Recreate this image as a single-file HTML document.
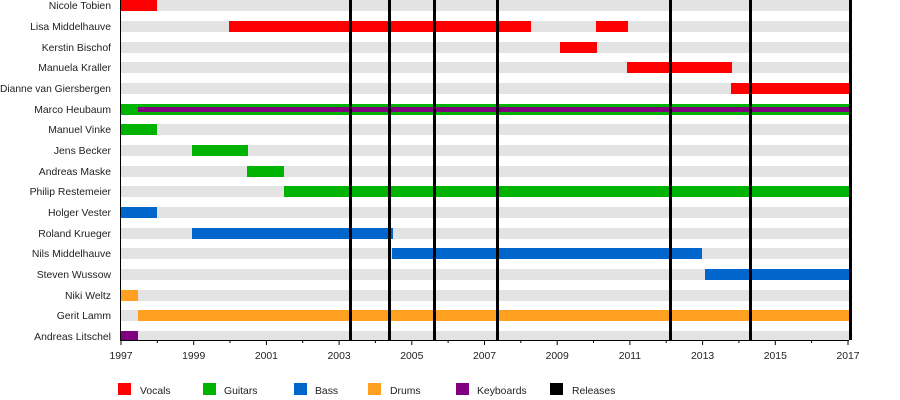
<!DOCTYPE html>
<html><head><meta charset="utf-8"><style>
html,body{margin:0;padding:0;background:#fff;}
svg{display:block;font-family:"Liberation Sans",Arial,sans-serif;font-size:10.4px;}
</style></head><body>
<svg width="900" height="400" xmlns="http://www.w3.org/2000/svg">
<g fill="#e3e3e3">
<rect x="121" y="0" width="730" height="11"/>
<rect x="121" y="21" width="730" height="11"/>
<rect x="121" y="42" width="730" height="11"/>
<rect x="121" y="62" width="730" height="11"/>
<rect x="121" y="83" width="730" height="11"/>
<rect x="121" y="104" width="730" height="11"/>
<rect x="121" y="124" width="730" height="11"/>
<rect x="121" y="145" width="730" height="11"/>
<rect x="121" y="166" width="730" height="11"/>
<rect x="121" y="186" width="730" height="11"/>
<rect x="121" y="207" width="730" height="11"/>
<rect x="121" y="228" width="730" height="11"/>
<rect x="121" y="248" width="730" height="11"/>
<rect x="121" y="269" width="730" height="11"/>
<rect x="121" y="290" width="730" height="11"/>
<rect x="121" y="310" width="730" height="11"/>
<rect x="121" y="331" width="730" height="9"/>
</g>
<g fill="#ff0000">
<rect x="121" y="0" width="36" height="11"/>
<rect x="229" y="21" width="302" height="11"/>
<rect x="596" y="21" width="32" height="11"/>
<rect x="560" y="42" width="37" height="11"/>
<rect x="627" y="62" width="105" height="11"/>
<rect x="731" y="83" width="120" height="11"/>
</g>
<g fill="#00b300">
<rect x="121" y="104" width="730" height="11"/>
<rect x="121" y="124" width="36" height="11"/>
<rect x="192" y="145" width="56" height="11"/>
<rect x="247" y="166" width="37" height="11"/>
<rect x="284" y="186" width="567" height="11"/>
</g>
<rect x="138" y="107" width="713" height="5" fill="#800080"/>
<g fill="#0066cc">
<rect x="121" y="207" width="36" height="11"/>
<rect x="192" y="228" width="201" height="11"/>
<rect x="392" y="248" width="310" height="11"/>
<rect x="705" y="269" width="146" height="11"/>
</g>
<g fill="#ffa020">
<rect x="121" y="290" width="17" height="11"/>
<rect x="138" y="310" width="713" height="11"/>
</g>
<rect x="121" y="331" width="17" height="9" fill="#800080"/>
<g fill="#000">
<rect x="349" y="0" width="3" height="340"/>
<rect x="388" y="0" width="3" height="340"/>
<rect x="433" y="0" width="3" height="340"/>
<rect x="496" y="0" width="3" height="340"/>
<rect x="669" y="0" width="3" height="340"/>
<rect x="749" y="0" width="3" height="340"/>
<rect x="849" y="0" width="3" height="340"/>
</g>
<g stroke="#000" stroke-width="1">
<line x1="120.5" y1="0" x2="120.5" y2="341"/>
<line x1="120" y1="340.5" x2="849" y2="340.5"/>
<line x1="121" y1="340" x2="121" y2="345"/><line x1="157.3" y1="340" x2="157.3" y2="343"/>
<line x1="193.7" y1="340" x2="193.7" y2="345"/><line x1="230" y1="340" x2="230" y2="343"/>
<line x1="266.4" y1="340" x2="266.4" y2="345"/><line x1="302.7" y1="340" x2="302.7" y2="343"/>
<line x1="339.1" y1="340" x2="339.1" y2="345"/><line x1="375.4" y1="340" x2="375.4" y2="343"/>
<line x1="411.8" y1="340" x2="411.8" y2="345"/><line x1="448.1" y1="340" x2="448.1" y2="343"/>
<line x1="484.5" y1="340" x2="484.5" y2="345"/><line x1="520.8" y1="340" x2="520.8" y2="343"/>
<line x1="557.2" y1="340" x2="557.2" y2="345"/><line x1="593.5" y1="340" x2="593.5" y2="343"/>
<line x1="629.9" y1="340" x2="629.9" y2="345"/><line x1="666.2" y1="340" x2="666.2" y2="343"/>
<line x1="702.6" y1="340" x2="702.6" y2="345"/><line x1="738.9" y1="340" x2="738.9" y2="343"/>
<line x1="775.3" y1="340" x2="775.3" y2="345"/><line x1="811.6" y1="340" x2="811.6" y2="343"/>
<line x1="848" y1="340" x2="848" y2="345"/>
</g>
<g fill="#222" text-anchor="middle">
<text x="121" y="359">1997</text><text x="193.7" y="359">1999</text><text x="266.4" y="359">2001</text>
<text x="339.1" y="359">2003</text><text x="411.8" y="359">2005</text><text x="484.5" y="359">2007</text>
<text x="557.2" y="359">2009</text><text x="629.9" y="359">2011</text><text x="702.6" y="359">2013</text>
<text x="775.3" y="359">2015</text><text x="848" y="359">2017</text>
</g>
<g fill="#222" text-anchor="end">
<text x="111" y="9">Nicole Tobien</text>
<text x="111" y="30">Lisa Middelhauve</text>
<text x="111" y="51">Kerstin Bischof</text>
<text x="111" y="71">Manuela Kraller</text>
<text x="111" y="92" textLength="111" lengthAdjust="spacingAndGlyphs">Dianne van Giersbergen</text>
<text x="111" y="113">Marco Heubaum</text>
<text x="111" y="133">Manuel Vinke</text>
<text x="111" y="154">Jens Becker</text>
<text x="111" y="175">Andreas Maske</text>
<text x="111" y="195">Philip Restemeier</text>
<text x="111" y="216">Holger Vester</text>
<text x="111" y="237">Roland Krueger</text>
<text x="111" y="257">Nils Middelhauve</text>
<text x="111" y="278">Steven Wussow</text>
<text x="111" y="299">Niki Weltz</text>
<text x="111" y="319">Gerit Lamm</text>
<text x="111" y="340">Andreas Litschel</text>
</g>
<rect x="118" y="383" width="13" height="12" fill="#ff0000"/>
<rect x="203" y="383" width="13" height="12" fill="#00b300"/>
<rect x="294" y="383" width="13" height="12" fill="#0066cc"/>
<rect x="368" y="383" width="13" height="12" fill="#ffa020"/>
<rect x="456" y="383" width="13" height="12" fill="#800080"/>
<rect x="550" y="383" width="13" height="12" fill="#000"/>
<g fill="#222">
<text x="140" y="394">Vocals</text>
<text x="224" y="394">Guitars</text>
<text x="315" y="394">Bass</text>
<text x="390" y="394">Drums</text>
<text x="477" y="394">Keyboards</text>
<text x="572" y="394">Releases</text>
</g>
</svg>
</body></html>
